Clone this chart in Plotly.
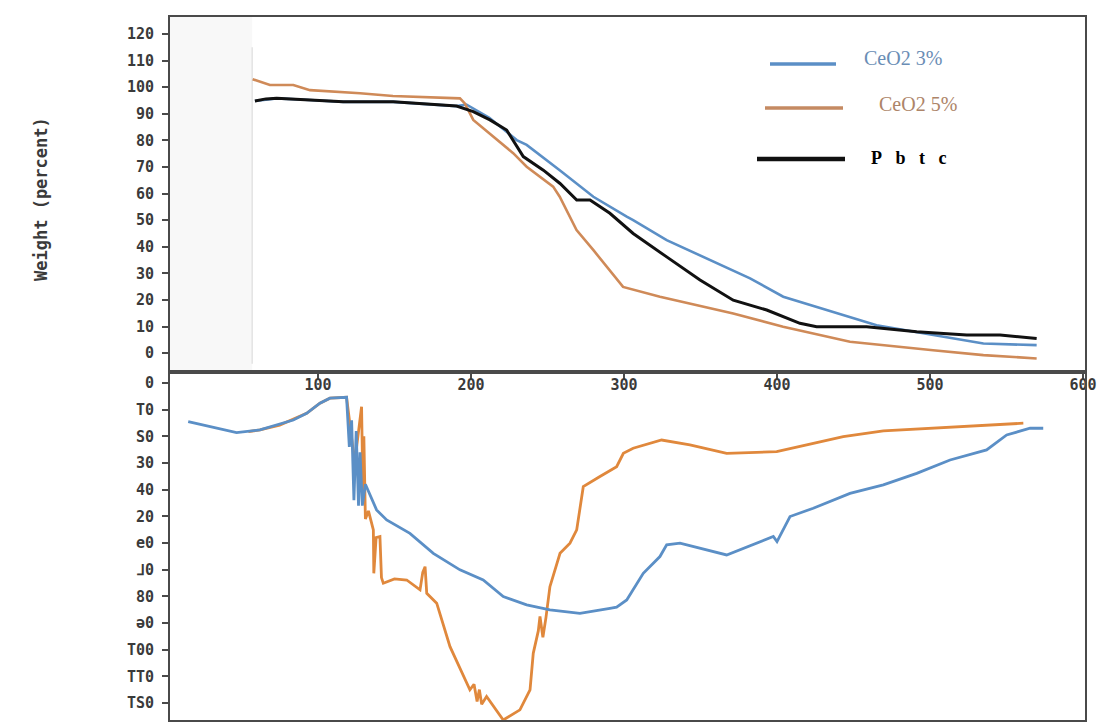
import plotly.graph_objects as go

# ---------------- data ----------------
# Top panel (TGA, weight %)
ceo2_3_x = [58.8, 73, 94.8, 116.5, 149.2, 171, 190.6, 197, 212, 229.9, 236.4, 258, 280, 301.8, 306,
            327.9, 360.6, 382.4, 404.1, 436.8, 465.1, 502.2, 534.9, 569.7]
ceo2_3_y = [94.8, 95.8, 95.2, 94.5, 94.5, 93.7, 92.9, 93.5, 88.5, 80.1, 78.3, 68.8, 58.8, 51.3, 50.0,
            42.5, 33.7, 28.1, 21.2, 15.5, 10.5, 6.8, 3.6, 3.0]

ceo2_5_x = [57.3, 68.6, 83.9, 94.8, 127.5, 149, 192.8, 196, 201.5, 214.6, 227.6, 236.4, 253.7, 258,
            269, 279.9, 290.8, 299.4, 323.5, 371.4, 404, 447.7, 502, 534.9, 569.7]
ceo2_5_y = [103.0, 100.8, 100.8, 98.9, 97.7, 96.7, 95.8, 93.9, 87.7, 81.4, 75.2, 70.1, 62.6, 58.8,
            46.3, 38.8, 31.2, 24.9, 21.2, 14.9, 9.9, 4.3, 1.1, -0.75, -2.0]

pbtc_x = [58.8, 66, 73, 94.8, 116.5, 149.2, 171, 190.6, 201.5, 212.4, 223.3, 234.2, 247.3, 258.2,
          269.1, 277.8, 290.8, 306, 327.9, 349.7, 371.4, 393.3, 415, 425.9, 458.6, 491.3, 524,
          545.8, 569.7]
pbtc_y = [94.8, 95.6, 95.8, 95.2, 94.5, 94.5, 93.7, 92.9, 90.8, 87.7, 83.9, 73.9, 68.8, 63.8,
          57.6, 57.6, 52.6, 45.0, 36.2, 27.5, 19.9, 16.2, 11.2, 9.9, 9.9, 8.0, 6.8, 6.8, 5.5]

# Bottom panel (flipped derivative curves)
dtg_3_x = [15.2, 46.8, 62.1, 83.9, 92.6, 101.3, 107.8, 118.7, 120.5, 122, 123.5, 125, 126.5, 127.5,
           129, 131, 138.3, 144.9, 160.1, 175.4, 192.8, 208, 221.1, 236.4, 251.6, 271.2, 290.8,
           295.2, 301.8, 312.6, 323.5, 327.9, 336.6, 367.1, 397.6, 400, 408.5, 423.7, 447.7,
           469.5, 491.3, 513.1, 537, 550.1, 565.4, 574]
dtg_3_y = [14.5, 18.6, 17.6, 13.9, 11.4, 7.6, 5.7, 5.4, 24, 14, 44, 18, 46, 26, 46, 38, 47.6, 51.4,
           56.4, 63.9, 70.1, 73.9, 80.1, 83.2, 85.1, 86.4, 84.5, 84.1, 81.4, 71.4, 65.1, 60.7,
           60.1, 64.5, 57.6, 59.5, 50.1, 47.0, 41.4, 38.2, 33.9, 28.9, 25.1, 19.5, 17.0, 17.0]

dtg_5_x = [54.5, 62.1, 75, 84, 92.6, 101.3, 107.8, 118.7, 124, 128.5, 129.5, 130, 131, 133, 136.2,
           136.5, 138, 140.5, 141.5, 142.7, 150, 158, 166.7, 168.5, 170, 171.1, 177.6, 186.3,
           199.3, 202, 204, 205.5, 207, 210.2, 221.1, 232, 238.6, 240.7, 244, 245.1, 247,
           249, 251.6, 258.2, 264.7, 269.1, 273.4, 284.3, 295.2, 299.6, 306, 324.6, 343.1,
           367.1, 399.8, 419.4, 443.3, 469.5, 502.2, 524, 561]
dtg_5_y = [18.3, 17.6, 15.8, 13.5, 11.4, 7.6, 5.7, 5.4, 30, 8.9, 45, 20, 51, 48, 55.1, 71.4,
           58, 57.6, 73, 75.1, 73.5, 73.9, 77.6, 71, 68.9, 78.9, 82.6, 98.9, 115.1, 113,
           119.5, 115, 120.5, 117.6, 126.4, 122.6, 115.1, 101.4, 93, 87.6, 95.4, 88,
           76.4, 63.9, 60.1, 55.1, 38.9, 35.1, 31.4, 26.4, 24.5, 21.4, 23.2, 26.4, 25.8,
           23.2, 20.1, 18.0, 17.0, 16.4, 15.1]

x_ticks = [100, 200, 300, 400, 500, 600]
top_y_ticks = [0, 10, 20, 30, 40, 50, 60, 70, 80, 90, 100, 110, 120]
bottom_y_ticks = [0, 10, 20, 30, 40, 50, 60, 70, 80, 90, 100, 110, 120]
bottom_y_text = ["0", "T0", "S0", "30", "40", "20", "e0", "⅃0", "80", "ə0", "T00", "TT0", "TS0"]

legend_names = ["CeO2 3%", "CeO2 5%", "P\u2002 b\u2002 t\u2002 c"]

# ---------------- styling ----------------
W, H = 1107, 727
BLUE = "#5b8fc6"
ORANGE_TOP = "#cf8a58"
ORANGE_BOT = "#e0883c"
BLACK = "#111111"
AXIS = "#4a4a4a"
tickfont = dict(family="DejaVu Sans Mono", size=15, color="#3a3a3a", weight="bold")


def px(x):
    return x / W


def py(y):
    return 1 - y / H


fig = go.Figure()

# top panel
fig.add_trace(go.Scatter(x=ceo2_3_x, y=ceo2_3_y, mode="lines", line=dict(color=BLUE, width=2.6),
                         xaxis="x", yaxis="y", showlegend=False))
fig.add_trace(go.Scatter(x=ceo2_5_x, y=ceo2_5_y, mode="lines", line=dict(color=ORANGE_TOP, width=2.6),
                         xaxis="x", yaxis="y", showlegend=False))
fig.add_trace(go.Scatter(x=pbtc_x, y=pbtc_y, mode="lines", line=dict(color=BLACK, width=3),
                         xaxis="x", yaxis="y", showlegend=False))

# bottom panel
fig.add_trace(go.Scatter(x=dtg_5_x, y=dtg_5_y, mode="lines", line=dict(color=ORANGE_BOT, width=2.8),
                         xaxis="x2", yaxis="y2", showlegend=False))
fig.add_trace(go.Scatter(x=dtg_3_x, y=dtg_3_y, mode="lines", line=dict(color=BLUE, width=2.8),
                         xaxis="x2", yaxis="y2", showlegend=False))

xdom = [170 / W, 1085 / W]
top_dom = [py(372), py(17)]
bot_dom = [py(720), py(372)]

common_axis = dict(showline=True, linecolor=AXIS, linewidth=2, mirror=True, showgrid=False,
                   zeroline=False, ticks="outside", tickcolor=AXIS, tickwidth=1.5,
                   automargin=False)

fig.update_layout(
    width=W, height=H, autosize=False,
    margin=dict(l=0, r=0, t=0, b=0, pad=0),
    paper_bgcolor="white", plot_bgcolor="white",
    xaxis=dict(domain=xdom, range=[3.3, 601.3], anchor="y", tickvals=x_ticks, ticklen=5,
               tickfont=tickfont, ticklabelstandoff=-7, **common_axis),
    yaxis=dict(domain=top_dom, range=[-7.1, 126.4], anchor="x", tickvals=top_y_ticks, ticklen=6,
               tickfont=tickfont, ticklabelstandoff=5, **common_axis),
    xaxis2=dict(domain=xdom, range=[3.3, 601.3], anchor="y2", showticklabels=False,
                showline=True, linecolor=AXIS, linewidth=2, mirror=True, showgrid=False,
                zeroline=False, ticks="", automargin=False),
    yaxis2=dict(domain=bot_dom, range=[126.4, -4.1], anchor="x2", tickvals=bottom_y_ticks,
                ticktext=bottom_y_text, tickfont=tickfont, ticklen=6, ticklabelstandoff=5,
                **common_axis),
)

# light grey band on the left of the upper panel and faint vertical line
fig.add_shape(type="rect", xref="x", yref="y", x0=3.3, x1=57, y0=-7.1, y1=126.4,
              fillcolor="#f8f8f8", line=dict(width=0), layer="below")
fig.add_shape(type="line", xref="x", yref="y", x0=57, x1=57, y0=-4, y1=115,
              line=dict(color="#dddddd", width=1.2), layer="below")

# y-axis title
fig.add_annotation(text="Weight (percent)", xref="paper", yref="paper", x=px(41), y=py(199),
                   xanchor="center", yanchor="middle",
                   textangle=-90, showarrow=False,
                   font=dict(family="DejaVu Sans Mono", size=17, color="#3a3a3a", weight="bold"))

# custom legend
legend_colors = [BLUE, "#c58a62", BLACK]
legend_text_colors = ["#6a8db5", "#ad8468", "#000000"]
legend_line_x = [(770, 836), (765, 843), (757, 845)]
legend_line_y = [64, 108, 159]
legend_text_x = [862, 877, 869]
legend_text_y = [58, 104, 158]
legend_widths = [3.5, 3.5, 4.5]
legend_sizes = [20, 20, 18]
for i, name in enumerate(legend_names):
    x0, x1 = legend_line_x[i]
    fig.add_shape(type="line", xref="paper", yref="paper", x0=px(x0), x1=px(x1),
                  y0=py(legend_line_y[i]), y1=py(legend_line_y[i]),
                  line=dict(color=legend_colors[i], width=legend_widths[i]))
    fig.add_annotation(text=name, xref="paper", yref="paper", x=px(legend_text_x[i]),
                       y=py(legend_text_y[i]), xanchor="left", yanchor="middle", showarrow=False,
                       font=dict(family="Liberation Serif", size=legend_sizes[i],
                                 color=legend_text_colors[i], weight="bold" if i == 2 else "normal"))

fig.write_html("out.html")
